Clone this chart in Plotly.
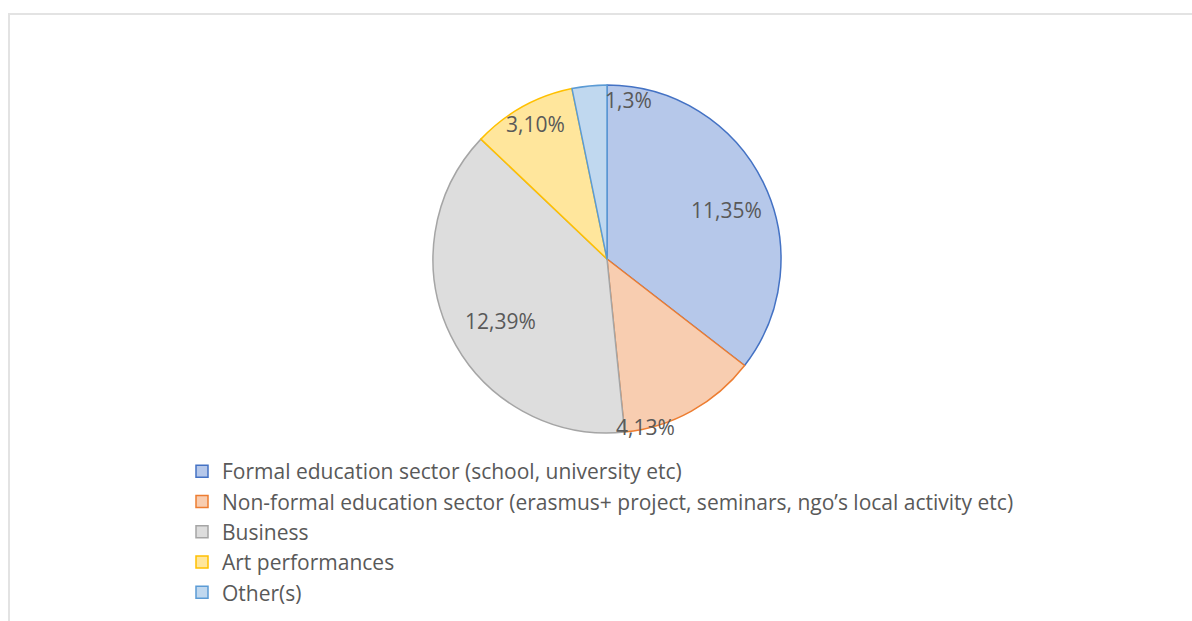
import math
import plotly.graph_objects as go

# Survey answers: counts per sector
categories = [
    "Formal education sector (school, university etc)",
    "Non-formal education sector (erasmus+ project, seminars, ngo’s local activity etc)",
    "Business",
    "Art performances",
    "Other(s)",
]
counts = [11, 4, 12, 3, 1]
percent_labels = ["35%", "13%", "39%", "10%", "3%"]

fill_colors = ["#b6c8ea", "#f8cdb0", "#dddddd", "#ffe69c", "#c0d8ef"]
edge_colors = ["#4472c4", "#ed7d31", "#a5a5a5", "#ffc000", "#5b9bd5"]

W, H = 1192, 621
CX, CY, R = 607, 259, 174

fig = go.Figure()
fig.add_trace(go.Pie(
    labels=categories,
    values=counts,
    sort=False,
    direction="clockwise",
    rotation=0,
    textinfo="none",
    hoverinfo="label+value+percent",
    marker=dict(colors=fill_colors, line=dict(color=edge_colors, width=1.5)),
    domain=dict(x=[(CX - R) / W, (CX + R) / W], y=[1 - (CY + R) / H, 1 - (CY - R) / H]),
))

# Data labels "count,percent" placed along each slice's bisector
radial_frac = [0.74, 0.99, 0.71, 0.88, 0.92]
angle_nudge = [4.0, 16.0, -4.0, 1.0, 13.5]
total = sum(counts)
start = 0.0
annotations = []
for i, c in enumerate(counts):
    mid = (start + c / 2) / total * 360 + angle_nudge[i]
    start += c
    rad = math.radians(mid)
    px = CX + radial_frac[i] * R * math.sin(rad)
    py = CY - radial_frac[i] * R * math.cos(rad)
    annotations.append(dict(
        x=px / W, y=1 - py / H, xref="paper", yref="paper",
        text=f"{c},{percent_labels[i]}", showarrow=False,
        xanchor="center", yanchor="middle",
        font=dict(family="Open Sans", size=21, color="#595959"),
    ))

fig.update_layout(
    width=W, height=H,
    margin=dict(l=0, r=0, t=0, b=0),
    paper_bgcolor="white",
    plot_bgcolor="white",
    showlegend=True,
    legend=dict(
        x=182 / W, y=1 - 451 / H, xanchor="left", yanchor="top",
        font=dict(family="Open Sans", size=21, color="#595959"),
        bgcolor="rgba(0,0,0,0)",
        itemwidth=30,
        tracegroupgap=0,
    ),
    annotations=annotations,
    shapes=[dict(
        type="rect", xref="paper", yref="paper",
        x0=9 / W, x1=1.02, y0=-0.02, y1=1 - 14 / H,
        line=dict(color="#e3e3e3", width=2), fillcolor="rgba(0,0,0,0)",
        layer="below",
    )],
)

fig.write_html("out.html")
